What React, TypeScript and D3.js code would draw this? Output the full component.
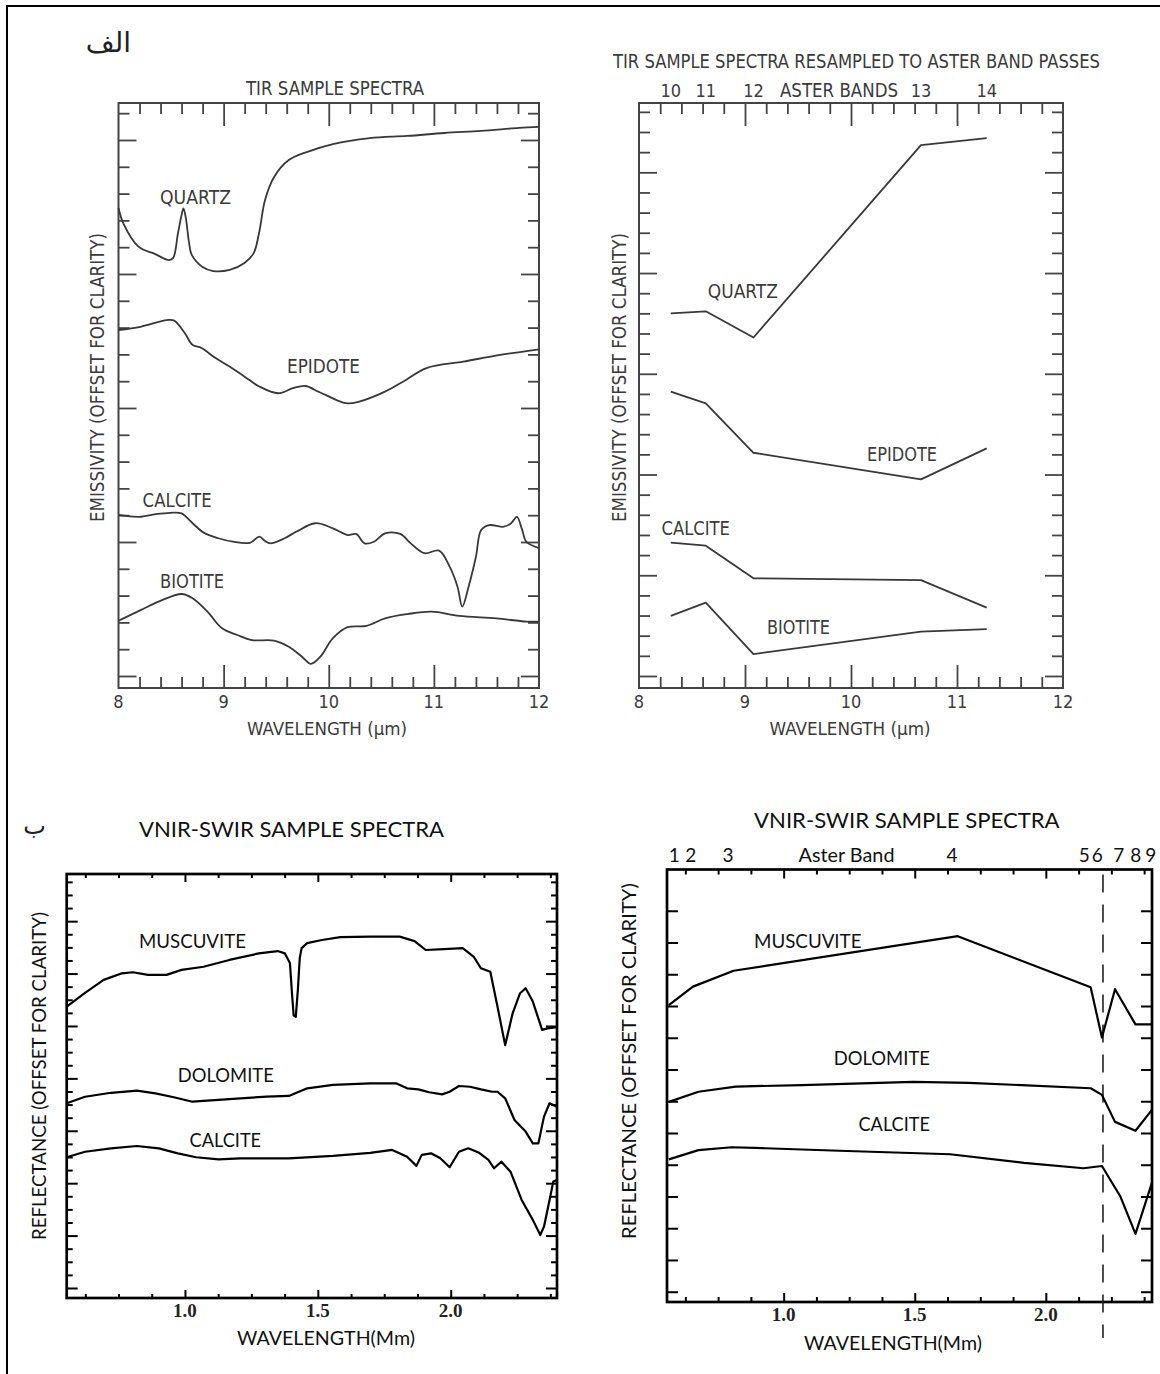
import { useEffect, useRef } from "react";
import * as d3 from "d3";

type Pt = [number, number];

// ---- TIR sample spectra (wavelength µm, emissivity in offset tick units) ----
const tirQuartz: Pt[] = [
  [8.0, 17.46], [8.045, 16.9], [8.19, 16.02], [8.35, 15.74], [8.48, 15.52],
  [8.52, 15.6], [8.565, 16.5], [8.6, 17.2], [8.618, 17.45], [8.64, 17.1],
  [8.67, 16.2], [8.697, 15.71], [8.8, 15.26], [8.9, 15.11], [9.057, 15.15],
  [9.198, 15.41], [9.286, 15.78], [9.337, 16.53], [9.394, 17.76], [9.48, 18.62],
  [9.62, 19.25], [9.79, 19.55], [10.04, 19.85], [10.39, 20.07], [10.745, 20.15],
  [11.1, 20.26], [11.45, 20.34], [11.81, 20.45], [12.0, 20.49],
];
const tirEpidote: Pt[] = [
  [8.0, 12.91], [8.21, 13.03], [8.46, 13.28], [8.53, 13.26], [8.63, 12.8],
  [8.705, 12.35], [8.79, 12.24], [8.92, 11.87], [9.06, 11.54], [9.2, 11.17],
  [9.34, 10.8], [9.52, 10.55], [9.66, 10.74], [9.78, 10.82], [9.9, 10.61],
  [9.97, 10.49], [10.16, 10.18], [10.29, 10.24], [10.535, 10.61], [10.71, 10.99],
  [10.93, 11.49], [11.28, 11.73], [11.63, 11.98], [12.0, 12.19],
];
const tirCalcite: Pt[] = [
  [8.0, 6.01], [8.195, 5.94], [8.353, 6.04], [8.494, 6.09], [8.6, 6.07],
  [8.705, 5.7], [8.81, 5.35], [8.95, 5.14], [9.09, 5.01], [9.25, 4.97],
  [9.34, 5.2], [9.39, 5.05], [9.445, 4.95], [9.58, 5.14], [9.69, 5.38],
  [9.87, 5.7], [10.04, 5.51], [10.18, 5.26], [10.26, 5.3], [10.34, 4.95],
  [10.43, 5.01], [10.535, 5.32], [10.68, 5.3], [10.78, 4.95], [10.91, 4.58],
  [11.05, 4.68], [11.15, 4.08], [11.225, 3.33], [11.27, 2.59], [11.33, 3.33],
  [11.4, 4.45], [11.45, 5.45], [11.525, 5.63], [11.665, 5.57], [11.735, 5.7],
  [11.79, 5.94], [11.84, 5.45], [11.88, 5.01], [12.0, 4.77],
];
const tirBiotite: Pt[] = [
  [8.0, 2.06], [8.21, 2.46], [8.42, 2.84], [8.6, 3.06], [8.705, 2.9],
  [8.846, 2.4], [8.985, 1.78], [9.13, 1.53], [9.27, 1.34], [9.48, 1.32],
  [9.62, 1.09], [9.745, 0.72], [9.83, 0.45], [9.92, 0.72], [10.04, 1.41],
  [10.18, 1.82], [10.36, 1.87], [10.535, 2.15], [10.75, 2.31], [10.98, 2.4],
  [11.24, 2.24], [11.595, 2.15], [11.88, 2.03], [12.0, 2.03],
];
const tirXTicks = [8, 9, 10, 11, 12];

// ---- TIR resampled to ASTER bands 10-14 ----
const asterTirBands = ["10", "11", "12", "13", "14"];
const asterTirCenters = [8.3, 8.63, 9.08, 10.66, 11.28];
const asterQuartz = [18.0, 18.1, 16.8, 26.35, 26.7];
const asterEpidote = [14.11, 13.53, 11.08, 9.76, 11.3];
const asterCalcite = [6.62, 6.47, 4.85, 4.76, 3.39];
const asterBiotite = [2.98, 3.64, 1.09, 2.2, 2.33];

// ---- VNIR-SWIR sample spectra (wavelength µm, reflectance offset units) ----
const swirMuscovite: Pt[] = [
  [0.555, 10.74], [0.624, 11.26], [0.694, 11.76], [0.763, 12.01], [0.804, 12.05],
  [0.861, 11.95], [0.931, 11.95], [0.987, 12.14], [1.07, 12.26], [1.167, 12.52],
  [1.278, 12.77], [1.349, 12.86], [1.376, 12.77], [1.395, 12.4], [1.403, 11.2],
  [1.409, 10.4], [1.417, 10.35], [1.425, 11.4], [1.432, 12.6], [1.439, 12.97],
  [1.46, 13.16], [1.515, 13.28], [1.585, 13.39], [1.697, 13.41], [1.808, 13.41],
  [1.864, 13.24], [1.906, 12.9], [1.975, 12.93], [2.045, 12.97], [2.086, 12.65],
  [2.114, 12.2], [2.149, 12.07], [2.176, 10.74], [2.205, 9.27], [2.233, 10.48],
  [2.261, 11.25], [2.282, 11.44], [2.309, 10.93], [2.344, 9.85], [2.364, 9.91],
  [2.4, 9.95],
];
const swirDolomite: Pt[] = [
  [0.555, 7.05], [0.624, 7.3], [0.722, 7.45], [0.819, 7.53], [0.889, 7.43],
  [0.958, 7.28], [1.028, 7.11], [1.084, 7.15], [1.209, 7.24], [1.307, 7.3],
  [1.391, 7.33], [1.46, 7.62], [1.557, 7.75], [1.697, 7.81], [1.794, 7.81],
  [1.836, 7.62], [1.878, 7.58], [1.919, 7.47], [1.968, 7.39], [1.996, 7.49],
  [2.031, 7.71], [2.073, 7.68], [2.114, 7.58], [2.156, 7.49], [2.176, 7.49],
  [2.205, 7.24], [2.24, 6.41], [2.282, 5.97], [2.309, 5.52], [2.33, 5.52],
  [2.351, 6.54], [2.372, 7.05], [2.4, 6.92],
];
const swirCalcite: Pt[] = [
  [0.555, 4.99], [0.624, 5.2], [0.722, 5.33], [0.819, 5.42], [0.902, 5.33],
  [0.973, 5.14], [1.042, 4.99], [1.126, 4.91], [1.209, 4.95], [1.391, 4.95],
  [1.557, 5.04], [1.697, 5.16], [1.78, 5.27], [1.836, 5.01], [1.871, 4.66],
  [1.891, 5.08], [1.926, 5.14], [1.961, 4.95], [1.996, 4.61], [2.031, 5.2],
  [2.066, 5.33], [2.107, 5.16], [2.142, 4.89], [2.163, 4.57], [2.191, 4.82],
  [2.225, 4.44], [2.267, 3.36], [2.309, 2.6], [2.337, 2.02], [2.351, 2.34],
  [2.372, 3.36], [2.386, 4.06], [2.4, 4.12],
];
const swirXTicks = [1.0, 1.5, 2.0];

// ---- VNIR-SWIR resampled to ASTER bands 1-9 ----
const asterSwirBands = ["1", "2", "3", "4", "5", "6", "7", "8", "9"];
const asterSwirLabelX = [0.583, 0.646, 0.788, 1.642, 2.147, 2.196, 2.278, 2.343, 2.4];
const asterSwirMuscovite: Pt[] = [
  [0.562, 9.03], [0.654, 9.61], [0.809, 10.11], [1.664, 11.2], [2.171, 9.59],
  [2.214, 8.01], [2.264, 9.53], [2.342, 8.42], [2.404, 8.42],
];
const asterSwirDolomite: Pt[] = [
  [0.562, 5.98], [0.675, 6.3], [0.817, 6.46], [1.07, 6.51], [1.494, 6.61],
  [1.706, 6.58], [2.171, 6.41], [2.214, 6.2], [2.264, 5.35], [2.342, 5.07],
  [2.404, 5.72],
];
const asterSwirCalcite: Pt[] = [
  [0.562, 4.17], [0.675, 4.46], [0.802, 4.55], [0.929, 4.52], [1.212, 4.44],
  [1.635, 4.33], [1.917, 4.06], [2.144, 3.89], [2.214, 3.96], [2.285, 2.99],
  [2.342, 1.82], [2.404, 3.41],
];
const band6Edge = 2.218;

const TIR_FONT = "'DejaVu Sans Condensed', 'Liberation Sans Narrow', Roboto, sans-serif";
const SWIR_FONT = "Lato, 'Open Sans', sans-serif";
const SERIF = "'Liberation Serif', 'DejaVu Serif', serif";
const TIR_INK = "#3b3b3b";
const SWIR_INK = "#111";

type Sel = d3.Selection<SVGGElement, unknown, null, undefined>;
type Lin = d3.ScaleLinear<number, number>;

function ticks(g: Sel, scale: Lin, orient: string, pos: number, values: number[], size: number, color: string, width: number) {
  const axis =
    orient === "top" ? d3.axisTop(scale) :
    orient === "bottom" ? d3.axisBottom(scale) :
    orient === "left" ? d3.axisLeft(scale) : d3.axisRight(scale);
  axis.tickValues(values).tickSizeInner(-size).tickSizeOuter(0).tickFormat(() => "");
  const t = orient === "top" || orient === "bottom" ? `translate(0,${pos})` : `translate(${pos},0)`;
  const a = g.append("g").attr("transform", t).call(axis as any);
  a.select(".domain").remove();
  a.selectAll("text").remove();
  a.selectAll("line").attr("stroke", color).attr("stroke-width", width);
}

function label(g: Sel, txt: string, x: number, y: number, o: any) {
  const t = g.append("text")
    .attr("x", x).attr("y", y).text(txt)
    .attr("font-family", o.family).attr("font-size", o.size)
    .attr("fill", o.fill).attr("text-anchor", o.anchor ?? "start");
  if (o.len) t.attr("textLength", o.len).attr("lengthAdjust", "spacingAndGlyphs");
  if (o.weight) t.attr("font-weight", o.weight);
  if (o.rotate) t.attr("transform", `rotate(-90 ${x} ${y})`);
  return t;
}

function frame(g: Sel, x: Lin, y: Lin, o: any) {
  const [xl, xr] = x.range();
  const [yb, yt] = y.range();
  const xMinor = o.xTicks.filter((v: number) => !o.xMajor.includes(v));
  const yMinor = o.yTicks.filter((v: number) => !o.yMajor.includes(v));
  ticks(g, x, "top", yt, xMinor, o.xMinorLen, o.ink, o.tickW);
  ticks(g, x, "top", yt, o.xMajor, o.xMajorLen, o.ink, o.tickW);
  ticks(g, x, "bottom", yb, xMinor, o.xMinorLen, o.ink, o.tickW);
  ticks(g, x, "bottom", yb, o.xMajor, o.xMajorLen, o.ink, o.tickW);
  ticks(g, y, "left", xl, yMinor, o.yMinorLen, o.ink, o.tickW);
  ticks(g, y, "left", xl, o.yMajor, o.yMajorLen, o.ink, o.tickW);
  ticks(g, y, "right", xr, yMinor, o.yMinorLen, o.ink, o.tickW);
  ticks(g, y, "right", xr, o.yMajor, o.yMajorLen, o.ink, o.tickW);
  g.append("rect")
    .attr("x", xl).attr("y", yt).attr("width", xr - xl).attr("height", yb - yt)
    .attr("fill", "none").attr("stroke", o.ink).attr("stroke-width", o.boxW);
}

function curve(g: Sel, data: Pt[], x: Lin, y: Lin, c: d3.CurveFactory, color: string, w: number) {
  const line = d3.line<Pt>().x((d) => x(d[0])).y((d) => y(d[1])).curve(c);
  g.append("path").attr("d", line(data)).attr("fill", "none")
    .attr("stroke", color).attr("stroke-width", w).attr("stroke-linejoin", "round");
}

export default function App() {
  const ref = useRef<SVGSVGElement>(null);

  useEffect(() => {
    const svg = d3.select(ref.current);
    svg.selectAll("*").remove();
    const root = svg.append("g") as unknown as Sel;

    // page border (top and left)
    root.append("line").attr("x1", 6).attr("x2", 1160).attr("y1", 6).attr("y2", 6).attr("stroke", "#000").attr("stroke-width", 2);
    root.append("line").attr("x1", 7).attr("x2", 7).attr("y1", 5).attr("y2", 1374).attr("stroke", "#000").attr("stroke-width", 2);

    const tirText = { family: TIR_FONT, size: 19, fill: TIR_INK };
    const swirText = { family: SWIR_FONT, size: 19, fill: SWIR_INK };

    const tirFrame = {
      xTicks: d3.range(0, 21).map((i) => 8 + i * 0.2),
      xMajor: [9, 10, 11],
      xMinorLen: 11, xMajorLen: 23, yMinorLen: 11, yMajorLen: 18,
      ink: "#444", tickW: 1.8, boxW: 2,
    };

    // ---------- TIR sample spectra ----------
    const gA = root.append("g") as unknown as Sel;
    const xA = d3.scaleLinear().domain([8, 12]).range([118.5, 539]);
    const yA = d3.scaleLinear().domain([-0.448, 21.38]).range([688, 103]);
    frame(gA, xA, yA, {
      ...tirFrame,
      xTicks: tirFrame.xTicks.filter((v) => v > 8.01 && v < 11.99),
      yTicks: d3.range(0, 22), yMajor: [0, 5, 10, 15, 20],
    });
    [tirQuartz, tirEpidote, tirCalcite, tirBiotite].forEach((s) =>
      curve(gA, s, xA, yA, d3.curveCatmullRom.alpha(0.5), "#383838", 1.8));
    label(gA, "الف", 108.5, 52, { family: "'DejaVu Sans', sans-serif", size: 28, fill: "#222", anchor: "middle" });
    label(gA, "TIR SAMPLE SPECTRA", 246, 95, { ...tirText, len: 178 });
    label(gA, "QUARTZ", 160, 204, { ...tirText, len: 71 });
    label(gA, "EPIDOTE", 287, 373, { ...tirText, len: 73 });
    label(gA, "CALCITE", 142.6, 507, { ...tirText, len: 69 });
    label(gA, "BIOTITE", 160, 588, { ...tirText, len: 64 });
    tirXTicks.forEach((v) => label(gA, String(v), xA(v), 708, { ...tirText, size: 18, anchor: "middle" }));
    label(gA, "WAVELENGTH (µm)", 247, 735, { ...tirText, size: 18, len: 160 });
    label(gA, "EMISSIVITY (OFFSET FOR CLARITY)", 104, 377.5, { ...tirText, anchor: "middle", len: 289, rotate: true });

    // ---------- TIR resampled to ASTER ----------
    const gB = root.append("g") as unknown as Sel;
    const xB = d3.scaleLinear().domain([8, 12]).range([639, 1063]);
    const yB = d3.scaleLinear().domain([-0.596, 28.44]).range([688, 103]);
    frame(gB, xB, yB, {
      ...tirFrame,
      xTicks: tirFrame.xTicks.filter((v) => v > 8.01 && v < 11.99),
      yTicks: d3.range(0, 29), yMajor: [0, 5, 10, 15, 20, 25],
    });
    [asterQuartz, asterEpidote, asterCalcite, asterBiotite].forEach((vals) =>
      curve(gB, asterTirCenters.map((w, i) => [w, vals[i]] as Pt), xB, yB, d3.curveLinear, "#383838", 1.8));
    label(gB, "TIR SAMPLE SPECTRA RESAMPLED TO ASTER BAND PASSES", 613, 68, { ...tirText, len: 487 });
    asterTirBands.forEach((b, i) => label(gB, b, xB(asterTirCenters[i]), 97, { ...tirText, size: 18, anchor: "middle" }));
    label(gB, "ASTER BANDS", 780, 97, { ...tirText, len: 118 });
    label(gB, "QUARTZ", 707.8, 298, { ...tirText, len: 70 });
    label(gB, "EPIDOTE", 867, 460.7, { ...tirText, len: 70 });
    label(gB, "CALCITE", 661.5, 535, { ...tirText, len: 68.5 });
    label(gB, "BIOTITE", 767, 634, { ...tirText, len: 63 });
    tirXTicks.forEach((v) => label(gB, String(v), xB(v), 708, { ...tirText, size: 18, anchor: "middle" }));
    label(gB, "WAVELENGTH (µm)", 769.6, 735, { ...tirText, size: 18, len: 161 });
    label(gB, "EMISSIVITY (OFFSET FOR CLARITY)", 626, 377.5, { ...tirText, anchor: "middle", len: 289, rotate: true });

    const swirXTickVals = d3.range(5, 20).map((i) => i * 0.125);

    // ---------- VNIR-SWIR sample spectra ----------
    const gC = root.append("g") as unknown as Sel;
    const xC = d3.scaleLinear().domain([0.555, 2.4]).range([66.7, 557]);
    const yC = d3.scaleLinear().domain([-0.382, 15.8]).range([1298, 874]);
    frame(gC, xC, yC, {
      xTicks: swirXTickVals, xMajor: swirXTicks,
      yTicks: d3.range(0, 32).map((i) => i * 0.5), yMajor: d3.range(0, 8).map((i) => i * 2),
      xMinorLen: 4, xMajorLen: 8, yMinorLen: 6, yMajorLen: 11,
      ink: "#000", tickW: 2, boxW: 2.7,
    });
    [swirMuscovite, swirDolomite, swirCalcite].forEach((s) =>
      curve(gC, s, xC, yC, d3.curveLinear, "#000", 2.2));
    label(gC, "ب", 34.5, 834, { family: "'DejaVu Sans', sans-serif", size: 24, fill: "#222", anchor: "middle" });
    label(gC, "VNIR-SWIR SAMPLE SPECTRA", 139, 836.7, { ...swirText, size: 21, len: 305 });
    label(gC, "MUSCUVITE", 139, 948, { ...swirText, len: 107 });
    label(gC, "DOLOMITE", 177.8, 1081.7, { ...swirText, len: 96 });
    label(gC, "CALCITE", 189.6, 1147, { ...swirText, len: 71.5 });
    swirXTicks.forEach((v) => label(gC, v.toFixed(1), xC(v), 1317, { family: SERIF, size: 19, fill: "#222", weight: "bold", anchor: "middle" }));
    label(gC, "WAVELENGTH(Mm)", 237, 1345, { ...swirText, len: 178 });
    label(gC, "REFLECTANCE (OFFSET FOR CLARITY)", 46, 1076, { ...swirText, size: 20, anchor: "middle", len: 328, rotate: true });

    // ---------- VNIR-SWIR resampled to ASTER ----------
    const gD = root.append("g") as unknown as Sel;
    const xD = d3.scaleLinear().domain([0.555, 2.405]).range([667, 1152]);
    const yD = d3.scaleLinear().domain([-0.324, 13.3]).range([1302, 869.5]);
    frame(gD, xD, yD, {
      xTicks: swirXTickVals, xMajor: swirXTicks,
      yTicks: d3.range(0, 13), yMajor: [],
      xMinorLen: 5, xMajorLen: 9, yMinorLen: 11, yMajorLen: 11,
      ink: "#000", tickW: 2, boxW: 2.7,
    });
    gD.append("line")
      .attr("x1", xD(band6Edge)).attr("x2", xD(band6Edge))
      .attr("y1", yD.range()[1] + 5).attr("y2", 1338)
      .attr("stroke", "#222").attr("stroke-width", 1.6).attr("stroke-dasharray", "18,12");
    [asterSwirMuscovite, asterSwirDolomite, asterSwirCalcite].forEach((s) =>
      curve(gD, s, xD, yD, d3.curveLinear, "#000", 2.2));
    label(gD, "VNIR-SWIR SAMPLE SPECTRA", 754, 828, { ...swirText, size: 21, len: 305.6 });
    asterSwirBands.forEach((b, i) => label(gD, b, xD(asterSwirLabelX[i]), 861.7, { ...swirText, anchor: "middle" }));
    label(gD, "Aster Band", 798.5, 861.7, { ...swirText, len: 96 });
    label(gD, "MUSCUVITE", 754, 948, { ...swirText, len: 107.5 });
    label(gD, "DOLOMITE", 833.7, 1065, { ...swirText, len: 96.3 });
    label(gD, "CALCITE", 858.5, 1130.7, { ...swirText, len: 71.5 });
    swirXTicks.forEach((v) => label(gD, v.toFixed(1), xD(v), 1321, { family: SERIF, size: 19, fill: "#222", weight: "bold", anchor: "middle" }));
    label(gD, "WAVELENGTH(Mm)", 804, 1350, { ...swirText, len: 178 });
    label(gD, "REFLECTANCE (OFFSET FOR CLARITY)", 635.5, 1061, { ...swirText, size: 20, anchor: "middle", len: 356, rotate: true });
  }, []);

  return (
    <svg
      ref={ref}
      width={1160}
      height={1374}
      style={{ position: "absolute", left: 0, top: 0, background: "#fff" }}
    />
  );
}
